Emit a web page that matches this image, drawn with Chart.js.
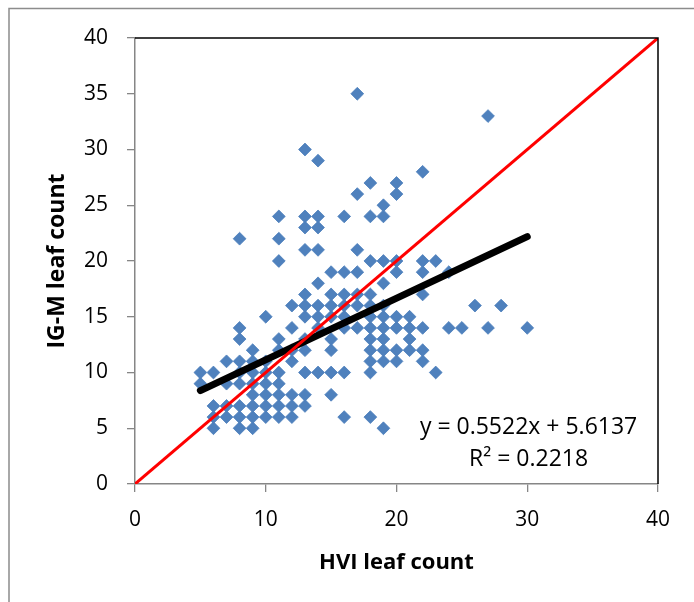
<!DOCTYPE html>
<html>
<head>
<meta charset="utf-8">
<script src="https://cdn.jsdelivr.net/npm/chart.js@4.4.1/dist/chart.umd.min.js"></script>
<style>
html,body{margin:0;padding:0;background:#fff;}
#wrap{position:relative;width:694px;height:602px;}
</style>
</head>
<body>
<div id="wrap"><canvas id="c" width="694" height="602"></canvas></div>
<script>
// HVI leaf count (x) and IG-M leaf count (y)
const hvi = [
  5,5,
  6,6,6,6,
  7,7,7,7,
  8,8,8,8,8,8,8,8,8,
  9,9,9,9,9,9,9,9,
  10,10,10,10,10,10,10,
  11,11,11,11,11,11,11,11,11,11,
  12,12,12,12,12,12,12,
  13,13,13,13,13,13,13,13,13,13,13,13,
  14,14,14,14,14,14,14,14,14,
  15,15,15,15,15,15,15,15,
  16,16,16,16,16,16,16,16,
  17,17,17,17,17,17,17,
  18,18,18,18,18,18,18,18,18,18,18,18,
  19,19,19,19,19,19,19,19,19,19,19,
  20,20,20,20,20,20,20,20,
  21,21,21,21,
  22,22,22,22,22,22,22,
  23,23,
  24,24,
  25,
  26,
  27,27,
  28,
  30
];
const igm = [
  9,10,
  5,6,7,10,
  6,7,9,11,
  5,6,7,9,10,11,13,14,22,
  5,6,7,8,9,10,11,12,
  6,7,8,9,10,11,15,
  6,7,8,9,10,12,13,20,22,24,
  6,7,8,11,12,14,16,
  7,8,10,12,13,15,16,17,21,23,24,30,
  10,14,15,16,18,21,23,24,29,
  8,10,12,13,15,16,17,19,
  6,10,14,15,16,17,19,24,
  14,16,17,19,21,26,35,
  6,10,11,12,13,14,15,16,17,20,24,27,
  5,11,12,13,14,15,16,18,20,24,25,
  11,12,14,15,19,20,26,27,
  12,13,14,15,
  11,12,14,17,19,20,28,
  10,20,
  14,19,
  14,
  16,
  14,33,
  16,
  14
];
const trendSlope = 0.5522;
const trendIntercept = 5.6137;
const trendRange = [5, 30];
const identityRange = [0, 40];
const xTicks = [0, 10, 20, 30, 40];
const yTicks = [0, 5, 10, 15, 20, 25, 30, 35, 40];
const equationText = 'y = 0.5522x + 5.6137';
const r2Text = 'R\u00B2 = 0.2218';
const xTitle = 'HVI leaf count';
const yTitle = 'IG-M leaf count';

const points = hvi.map((x, i) => ({x: x, y: igm[i]}));
const trendPts = trendRange.map(x => ({x: x, y: trendSlope * x + trendIntercept}));
const idPts = identityRange.map(x => ({x: x, y: x}));

const FONT = "'Open Sans', 'Noto Sans', sans-serif";

const framePlugin = {
  id: 'frame',
  beforeDraw(chart) {
    const ctx = chart.ctx;
    ctx.save();
    ctx.strokeStyle = '#8c8c8c';
    ctx.lineWidth = 1.5;
    ctx.beginPath();
    ctx.moveTo(9, 602);
    ctx.lineTo(9, 8.5);
    ctx.lineTo(694, 8.5);
    ctx.stroke();
    ctx.restore();
  },
  afterDatasetsDraw(chart) {
    const ctx = chart.ctx;
    const a = chart.chartArea;
    ctx.save();
    ctx.strokeStyle = '#000';
    ctx.lineWidth = 1.5;
    ctx.beginPath();
    ctx.moveTo(a.left, a.top);
    ctx.lineTo(a.right, a.top);
    ctx.lineTo(a.right, a.bottom);
    ctx.stroke();
    // equation label
    const xs = chart.scales.x, ys = chart.scales.y;
    ctx.fillStyle = '#000';
    ctx.font = "23px " + FONT;
    ctx.textAlign = 'center';
    ctx.textBaseline = 'middle';
    const cx = xs.getPixelForValue(30.1);
    ctx.fillText(equationText, cx, ys.getPixelForValue(5.05));
    ctx.fillText(r2Text, cx, ys.getPixelForValue(2.2));
    ctx.restore();
  }
};

new Chart(document.getElementById('c'), {
  data: {
    datasets: [
      {
        type: 'line',
        data: idPts,
        borderColor: '#ff0000',
        borderWidth: 3,
        pointRadius: 0,
        fill: false,
        order: 0
      },
      {
        type: 'line',
        data: trendPts,
        borderColor: '#000000',
        borderWidth: 7,
        borderCapStyle: 'round',
        pointRadius: 0,
        fill: false,
        order: 1
      },
      {
        type: 'scatter',
        data: points,
        pointStyle: 'rectRot',
        pointRadius: 6.4,
        backgroundColor: '#4F81BD',
        borderColor: '#4A7EBB',
        borderWidth: 0.8,
        order: 2
      }
    ]
  },
  options: {
    responsive: false,
    animation: false,
    layout: {padding: {top: 38, right: 36, left: 0, bottom: 0}},
    plugins: {legend: {display: false}, tooltip: {enabled: false}},
    scales: {
      x: {
        type: 'linear',
        min: 0, max: 40,
        afterBuildTicks(s) { s.ticks = xTicks.map(v => ({value: v})); },
        afterFit(s) { s.height = 118; },
        grid: {drawOnChartArea: false, drawTicks: true, tickLength: 8, color: '#868686', lineWidth: 1.3},
        border: {display: true, color: '#868686', width: 1.5},
        ticks: {color: '#000', font: {family: FONT, size: 21}, padding: 15, maxRotation: 0},
        title: {display: true, text: xTitle, color: '#000', font: {family: FONT, size: 22, weight: 'bold'}, padding: {top: 0, bottom: 26}}
      },
      y: {
        type: 'linear',
        min: 0, max: 40,
        afterBuildTicks(s) { s.ticks = yTicks.map(v => ({value: v})); },
        afterFit(s) { s.width = 135; },
        grid: {drawOnChartArea: false, drawTicks: true, tickLength: 8, color: '#868686', lineWidth: 1.3},
        border: {display: true, color: '#868686', width: 1.5},
        ticks: {color: '#000', font: {family: FONT, size: 21}, padding: 19},
        title: {display: true, text: yTitle, color: '#000', font: {family: FONT, size: 23, weight: 'bold'}, padding: {top: 44, bottom: 0}}
      }
    }
  },
  plugins: [framePlugin]
});
</script>
</body>
</html>
